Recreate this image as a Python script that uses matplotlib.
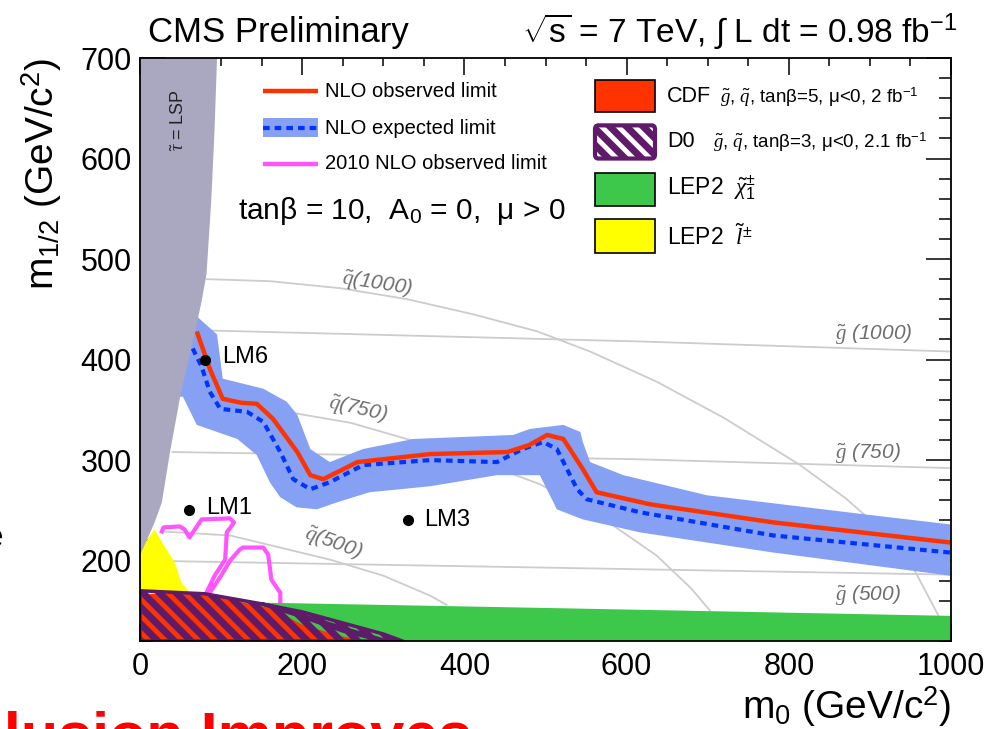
import numpy as np
import matplotlib
matplotlib.use("Agg")
import matplotlib.pyplot as plt
from matplotlib.patches import Polygon, Rectangle, FancyBboxPatch
from matplotlib.ticker import MultipleLocator

plt.rcParams.update({
    "font.family": ["Liberation Sans", "DejaVu Sans"],
    "mathtext.fontset": "custom",
    "mathtext.rm": "Liberation Sans",
    "mathtext.it": "Liberation Serif:italic",
    "mathtext.bf": "Liberation Sans:bold",
    "hatch.linewidth": 5.0,
})

# ---- exclusion contours (m0, m1/2) in GeV ----
obs_m0 = [70, 86, 102, 125, 144, 164, 194, 210, 226, 268, 358, 453, 480, 502, 522, 546, 563, 629, 781, 999]
obs_m12 = [428, 391, 361, 357, 356, 341, 308, 285, 281, 298, 306, 308, 315, 325, 321, 291, 268, 256, 238, 218]

exp_m0 = [65, 76, 86, 99, 132, 152, 173, 189, 210, 234, 275, 358, 440, 472, 497, 514, 539, 551, 617, 781, 999]
exp_m12 = [411, 393, 368, 351, 348, 338, 308, 281, 271, 278, 295, 300, 298, 311, 318, 311, 271, 261, 248, 225, 208]

band_hi_m0 = [60, 70, 95, 102, 152, 181, 194, 210, 234, 275, 337, 460, 481, 522, 543, 546, 555, 596, 699, 904, 999]
band_hi_m12 = [447, 443, 425, 381, 371, 358, 345, 311, 298, 311, 321, 325, 331, 335, 328, 318, 298, 285, 265, 245, 236]
band_lo_m0 = [45, 53, 70, 120, 144, 160, 173, 193, 218, 243, 283, 358, 440, 493, 514, 546, 617, 781, 999]
band_lo_m12 = [363, 363, 335, 321, 305, 278, 263, 253, 251, 258, 268, 274, 285, 285, 251, 241, 228, 208, 185]

lim2010_m0 = [27, 29, 49, 55, 61, 76, 111, 116, 107, 105, 92, 82, 86, 100, 111, 123, 127, 152, 158, 162, 173, 173]
lim2010_m12 = [229, 233, 234, 231, 223, 241, 242, 238, 228, 201, 185, 168, 168, 185, 200, 211, 213, 213, 206, 181, 168, 158]

# ---- theoretically / previously excluded regions ----
lsp_m0 = [0, 0, 18, 27, 37, 50, 68, 76, 82, 88, 92, 95, 0]
lsp_m12 = [120, 205, 238, 258, 308, 365, 428, 458, 485, 560, 630, 700, 700]

lep_slep_m0 = [0, 0, 18, 28, 43, 51, 62, 66, 0]
lep_slep_m12 = [120, 211, 231, 217, 198, 178, 168, 120, 120]

lep_chi_m0 = [0, 160, 493, 1000, 1000, 0]
lep_chi_m12 = [160, 158, 153, 145, 120, 120]

cdf_m0 = [0, 0, 40, 74, 123, 160, 201, 247, 300, 0]
cdf_m12 = [120, 166, 168, 168, 159, 153, 136, 125, 117, 120]

d0_main_m0 = [0, 0, 80, 150, 200, 250, 300, 0]
d0_main_m12 = [120, 170, 167, 157, 144, 130, 120, 120]
d0_lobe_m0 = [150, 200, 250, 300, 327, 300, 250, 210, 170]
d0_lobe_m12 = [157, 149, 138, 127, 119, 121, 133, 143, 153]

# ---- iso-mass contours ----
sq500_m0 = [27, 111, 234, 300, 358, 378]
sq500_m12 = [229, 225, 201, 185, 165, 156]
sq750_m0 = [55, 120, 181, 260, 329, 400, 460, 493, 560, 637, 680, 703]
sq750_m12 = [362, 358, 348, 337, 321, 305, 286, 276, 248, 205, 172, 150]
sq1000_m0 = [82, 160, 247, 330, 411, 490, 555, 637, 720, 814, 870, 904, 950, 984, 998]
sq1000_m12 = [480, 478, 471, 460, 445, 428, 408, 378, 342, 295, 262, 238, 198, 146, 120]
gl500_m0 = [0, 500, 1000]
gl500_m12 = [200, 193, 186]
gl750_m0 = [40, 604, 1000]
gl750_m12 = [308, 301, 292]
gl1000_m0 = [82, 617, 1000]
gl1000_m12 = [429, 418, 408]

# ---- benchmark points ----
lm_names = ["LM1", "LM3", "LM6"]
lm_m0 = [60, 330, 80]
lm_m12 = [250, 240, 400]

RED = "#ff3300"
BLUE = "#0033ff"
BAND = "#86a0f3"
PINK = "#ff55ff"
PURPLE = "#5f1a69"
GREEN = "#3ec84b"
YELLOW = "#ffff00"
LSPGRAY = "#aaa8c0"
ISO = "#cccccc"
ISOTXT = "#6e6e6e"

fig = plt.figure(figsize=(10.05, 7.29), dpi=100)
ax = fig.add_axes([0.1393, 0.1207, 0.8070, 0.7997])
ax.set_xlim(0, 1000)
ax.set_ylim(120, 700)

# iso-mass lines
for xs, ys in [(sq500_m0, sq500_m12), (sq750_m0, sq750_m12), (sq1000_m0, sq1000_m12),
               (gl500_m0, gl500_m12), (gl750_m0, gl750_m12), (gl1000_m0, gl1000_m12)]:
    ax.plot(xs, ys, color=ISO, lw=1.3, zorder=1)

iso_labels = [
    (r"$\tilde{q}$(1000)", 293, 475, -9),
    (r"$\tilde{q}$(750)", 269, 351, -13),
    (r"$\tilde{q}$(500)", 238, 218, -20),
    (r"$\tilde{g}$ (1000)", 905, 425, 0),
    (r"$\tilde{g}$ (750)", 898, 307, 0),
    (r"$\tilde{g}$ (500)", 898, 166, 0),
]
for txt, x, y, rot in iso_labels:
    ax.text(x, y, txt, color=ISOTXT, fontsize=15, style="italic", rotation=rot,
            ha="center", va="center", zorder=2, rotation_mode="anchor")

# expected band and lines
band_x = band_hi_m0 + band_lo_m0[::-1]
band_y = band_hi_m12 + band_lo_m12[::-1]
ax.add_patch(Polygon(np.column_stack([band_x, band_y]), closed=True,
                     facecolor=BAND, edgecolor="none", zorder=3))
ax.plot(exp_m0, exp_m12, color=BLUE, lw=3, ls=(0, (1.6, 1.2)), zorder=4)
ax.plot(obs_m0, obs_m12, color=RED, lw=3.2, zorder=5, solid_capstyle="butt")
ax.plot(lim2010_m0, lim2010_m12, color=PINK, lw=3, zorder=5, solid_joinstyle="round")

# excluded regions
ax.add_patch(Polygon(np.column_stack([lep_chi_m0, lep_chi_m12]), closed=True,
                     facecolor=GREEN, edgecolor="none", zorder=6))
ax.add_patch(Polygon(np.column_stack([lep_slep_m0, lep_slep_m12]), closed=True,
                     facecolor=YELLOW, edgecolor="none", zorder=6))
ax.add_patch(Polygon(np.column_stack([cdf_m0, cdf_m12]), closed=True,
                     facecolor=RED, edgecolor="none", zorder=7))
for xs, ys in [(d0_main_m0, d0_main_m12), (d0_lobe_m0, d0_lobe_m12)]:
    ax.add_patch(Polygon(np.column_stack([xs, ys]), closed=True, facecolor="none",
                         edgecolor=PURPLE, hatch="\\\\", lw=2.5, zorder=8))
ax.add_patch(Polygon(np.column_stack([lsp_m0, lsp_m12]), closed=True,
                     facecolor=LSPGRAY, edgecolor="none", zorder=9))
ax.text(49, 638, r"$\tilde{\tau}$ = LSP", rotation=90, fontsize=13, ha="center",
        va="center", color="#222222", zorder=10)

# benchmark points
ax.plot(lm_m0, lm_m12, "o", color="black", ms=7, zorder=11)
lm_label_pos = {"LM1": (81, 252), "LM3": (350, 240), "LM6": (101, 403)}
for name in lm_names:
    x, y = lm_label_pos[name]
    ax.text(x, y, name, fontsize=17, ha="left", va="center", zorder=11)

# left legend block
ax.plot([152, 219], [667, 667], color=RED, lw=3.2, zorder=12, solid_capstyle="butt")
ax.text(228, 667, "NLO observed limit", fontsize=14.5, va="center", zorder=12)
ax.add_patch(Rectangle((152, 621), 67, 19, facecolor=BAND, edgecolor="none", zorder=12))
ax.plot([152, 219], [630.5, 630.5], color=BLUE, lw=3, ls=(0, (1.6, 1.2)), zorder=13)
ax.text(228, 630, "NLO expected limit", fontsize=14.5, va="center", zorder=12)
ax.plot([152, 219], [595, 595], color=PINK, lw=3.2, zorder=12, solid_capstyle="butt")
ax.text(228, 595, "2010 NLO observed limit", fontsize=14.5, va="center", zorder=12)
ax.text(121, 548, r"tanβ = 10,  A$_{0}$ = 0,  μ > 0", fontsize=21.5, va="center", zorder=12)

# right legend block
ax.add_patch(Rectangle((561, 646), 74, 32, facecolor=RED, edgecolor="black", lw=1.2, zorder=12))
ax.add_patch(FancyBboxPatch((563, 602), 70, 29, boxstyle="round,pad=2,rounding_size=4",
                            facecolor="white", edgecolor=PURPLE, hatch="\\\\", lw=3, zorder=12,
                            mutation_aspect=1))
ax.add_patch(Rectangle((561, 553), 74, 33, facecolor=GREEN, edgecolor="black", lw=1.2, zorder=12))
ax.add_patch(Rectangle((561, 506), 74, 34, facecolor=YELLOW, edgecolor="black", lw=1.2, zorder=12))
ax.text(650, 662, "CDF", fontsize=15.5, va="center", zorder=12)
ax.text(715, 661, r"$\tilde{g}$, $\tilde{q}$, tanβ=5, μ<0, 2 fb$^{-1}$", fontsize=13.5,
        va="center", zorder=12)
ax.text(650, 617, "D0", fontsize=15.5, va="center", zorder=12)
ax.text(706, 616, r"$\tilde{g}$, $\tilde{q}$, tanβ=3, μ<0, 2.1 fb$^{-1}$", fontsize=13.5,
        va="center", zorder=12)
ax.text(650, 571, r"LEP2  $\tilde{\chi}^{\pm}_{1}$", fontsize=16.5, va="center", zorder=12)
ax.text(650, 522, r"LEP2  $\tilde{l}^{\pm}$", fontsize=16.5, va="center", zorder=12)

# axes styling
ax.xaxis.set_major_locator(MultipleLocator(200))
ax.xaxis.set_minor_locator(MultipleLocator(50))
ax.yaxis.set_major_locator(MultipleLocator(100))
ax.yaxis.set_minor_locator(MultipleLocator(20))
ax.tick_params(axis="both", which="both", direction="in", top=True, right=True,
               width=1.1, color="black", zorder=20)
ax.tick_params(axis="x", which="major", length=12, labelsize=22, pad=8)
ax.tick_params(axis="x", which="minor", length=6)
ax.tick_params(axis="y", which="major", length=18, labelsize=22, pad=6)
ax.tick_params(axis="y", which="minor", length=9)
for sp in ax.spines.values():
    sp.set_linewidth(1.3)
    sp.set_zorder(20)
ax.set_axisbelow(False)

ax.set_xlabel(r"m$_{0}$ (GeV/c$^{2}$)", fontsize=28, loc="right", labelpad=2)
ax.set_ylabel(r"m$_{1/2}$ (GeV/c$^{2}$)", fontsize=28, loc="top", labelpad=12)

fig.text(0.147, 0.956, "CMS Preliminary", fontsize=25, ha="left", va="center")
fig.text(0.952, 0.958, r"$\sqrt{\mathrm{s}}$ = 7 TeV, $\int$ L dt = 0.98 fb$^{-1}$",
         fontsize=24, ha="right", va="center")

# slide text running off the page edges
fig.text(-0.104, 0.025, "Exclusion Improves", fontsize=44, fontweight="bold",
         color="#ff0000", ha="left", va="top")
fig.text(-0.006, 0.262, "e", fontsize=24, ha="center", va="center")

fig.savefig("out.png", dpi=100)
